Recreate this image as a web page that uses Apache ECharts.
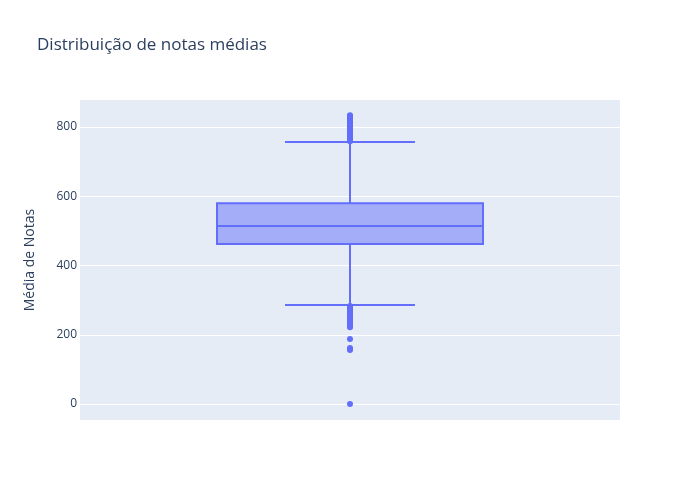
<!DOCTYPE html>
<html>
<head>
<meta charset="utf-8">
<script src="https://cdn.jsdelivr.net/npm/echarts@6/dist/echarts.min.js"></script>
<style>html,body{margin:0;padding:0;background:#fff}#c{width:700px;height:500px}</style>
</head>
<body>
<div id="c"></div>
<script>
const categories = ['Média'];
// [lower whisker, Q1, median, Q3, upper whisker]
const boxStats = [286, 462, 514, 580, 757];
const outliers = [
  834, 831, 829, 827, 825, 823, 821, 819, 817, 815, 813, 811, 809, 807, 805, 803,
  801, 799, 797, 795, 793, 791, 789, 787, 785, 783, 781, 779, 777, 775, 773, 771,
  769, 767, 765, 763, 761, 759,
  283, 280, 277, 273, 269, 265, 261, 257, 253, 249, 245, 241, 237, 233, 229, 225, 222,
  188, 162, 156, 0
];
const yTicks = [0, 200, 400, 600, 800];

const chart = echarts.init(document.getElementById('c'), null, {renderer: 'canvas'});
const font = '"Open Sans", "Noto Sans", sans-serif';
const blue = '#636efa';

chart.setOption({
  backgroundColor: '#fff',
  animation: false,
  title: {
    text: 'Distribuição de notas médias',
    left: 37, top: 37, padding: 0,
    textStyle: {fontFamily: font, fontSize: 17, fontWeight: 'normal', color: '#2a3f5f'}
  },
  grid: {left: 80, right: 80, top: 100, bottom: 80, show: true, backgroundColor: '#E5ECF6', borderWidth: 0},
  xAxis: {
    type: 'category', data: categories,
    axisLine: {show: false}, axisTick: {show: false}, axisLabel: {show: false}, splitLine: {show: false}
  },
  yAxis: {
    type: 'value', min: -46, max: 878,
    name: 'Média de Notas', nameLocation: 'middle', nameGap: 43,
    nameTextStyle: {fontFamily: font, fontSize: 14, color: '#2a3f5f'},
    axisLine: {show: false},
    axisTick: {show: false, customValues: yTicks},
    axisLabel: {customValues: yTicks, fontFamily: font, fontSize: 12, color: '#2a3f5f', margin: 3},
    splitLine: {show: true, lineStyle: {color: '#ffffff', width: 1}}
  },
  series: [
    {
      type: 'custom',
      data: [[0].concat(boxStats)],
      encode: {x: 0, y: [1, 2, 3, 4, 5]},
      renderItem: function (params, api) {
        const xi = api.value(0);
        const band = api.size([1, 0])[0];
        const boxW = band * 0.4926;
        const whW = band * 0.2407;
        const lo = api.coord([xi, api.value(1)]);
        const q1 = api.coord([xi, api.value(2)]);
        const md = api.coord([xi, api.value(3)]);
        const q3 = api.coord([xi, api.value(4)]);
        const hi = api.coord([xi, api.value(5)]);
        const cx = lo[0];
        const ls = {stroke: blue, lineWidth: 2, fill: null};
        return {
          type: 'group',
          children: [
            {type: 'line', shape: {x1: cx, y1: hi[1], x2: cx, y2: q3[1]}, style: ls},
            {type: 'line', shape: {x1: cx, y1: q1[1], x2: cx, y2: lo[1]}, style: ls},
            {type: 'line', shape: {x1: cx - whW / 2, y1: hi[1], x2: cx + whW / 2, y2: hi[1]}, style: ls},
            {type: 'line', shape: {x1: cx - whW / 2, y1: lo[1], x2: cx + whW / 2, y2: lo[1]}, style: ls},
            {type: 'rect', shape: {x: cx - boxW / 2, y: q3[1], width: boxW, height: q1[1] - q3[1]},
             style: {fill: 'rgba(99,110,250,0.5)', stroke: blue, lineWidth: 2}},
            {type: 'line', shape: {x1: cx - boxW / 2, y1: md[1], x2: cx + boxW / 2, y2: md[1]}, style: ls}
          ]
        };
      }
    },
    {
      type: 'scatter',
      data: outliers.map(v => [0, v]),
      symbolSize: 6,
      itemStyle: {color: blue, opacity: 1},
      z: 3
    }
  ]
});
</script>
</body>
</html>
